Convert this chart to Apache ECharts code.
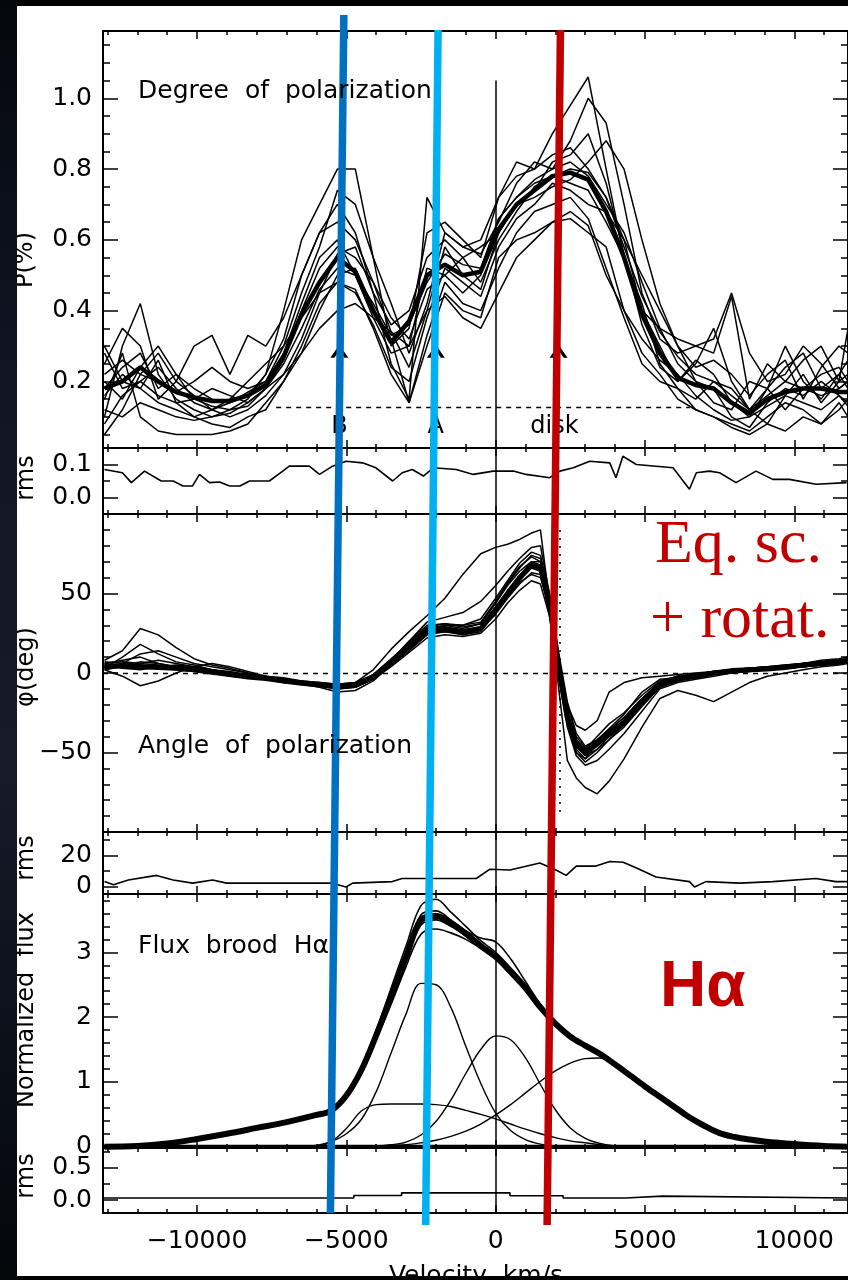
<!DOCTYPE html>
<html><head><meta charset="utf-8">
<script src="https://cdn.jsdelivr.net/npm/echarts@6.0.0/dist/echarts.min.js"></script>
<style>html,body{margin:0;padding:0;background:#fff}#c{width:848px;height:1280px}</style>
</head><body><div id="c"></div>
<script>
// ---------------- DATA ----------------
// Degree of polarization (P %), velocity grid
const VP = [-13100,-12500,-11900,-11300,-10700,-10100,-9500,-8900,-8300,-7700,-7100,-6500,-5900,-5300,-4700,-4100,-3500,-2900,-2300,-1700,-1100,-500,100,700,1300,1900,2500,3100,3700,4300,4900,5500,6100,6700,7300,7900,8500,9100,9700,10300,10900,11500,11800];
const pMean = [0.18,0.20,0.24,0.20,0.17,0.155,0.145,0.145,0.16,0.19, 0.27,0.39,0.48,0.55,0.51,0.40,0.31,0.37,0.50,0.53, 0.50,0.51,0.63,0.70,0.74,0.78,0.79,0.77,0.68,0.55, 0.39,0.28,0.21,0.19,0.18,0.14,0.11,0.15,0.17,0.18, 0.18,0.17,0.17];
const pT1 = [0.10,0.30,0.42,0.22,0.15,0.12,0.10,0.12,0.15,0.22, 0.40,0.60,0.70,0.80,0.80,0.55,0.30,0.35,0.62,0.65, 0.60,0.55,0.72,0.82,0.80,0.90,0.98,1.06,0.80,0.55, 0.40,0.30,0.20,0.25,0.35,0.20,0.12,0.18,0.30,0.20, 0.15,0.22,0.18];
const pT2 = [0.25,0.35,0.30,0.15,0.20,0.30,0.33,0.22,0.33,0.30, 0.38,0.50,0.62,0.70,0.62,0.45,0.25,0.15,0.72,0.62, 0.58,0.56,0.65,0.76,0.82,0.80,0.88,1.00,0.93,0.70, 0.45,0.32,0.28,0.30,0.32,0.45,0.28,0.20,0.22,0.30, 0.25,0.18,0.20];
const pT3 = [0.30,0.20,0.18,0.26,0.14,0.10,0.08,0.07,0.10,0.12, 0.20,0.28,0.40,0.50,0.52,0.40,0.32,0.14,0.30,0.45, 0.40,0.38,0.55,0.60,0.62,0.65,0.66,0.62,0.58,0.40, 0.28,0.22,0.15,0.12,0.10,0.08,0.06,0.10,0.14,0.12, 0.08,0.12,0.15];
const pT4 = [0.20,0.15,0.24,0.30,0.22,0.18,0.15,0.14,0.17,0.20, 0.28,0.42,0.55,0.60,0.50,0.38,0.28,0.30,0.52,0.50, 0.45,0.50,0.66,0.72,0.77,0.80,0.82,0.78,0.70,0.62, 0.48,0.35,0.25,0.20,0.18,0.10,0.07,0.14,0.18,0.16, 0.20,0.16,0.13];
const pT5 = [0.05,0.12,0.22,0.28,0.20,0.16,0.12,0.10,0.12,0.16, 0.22,0.32,0.45,0.56,0.58,0.45,0.36,0.40,0.55,0.60, 0.55,0.48,0.60,0.68,0.75,0.78,0.76,0.74,0.65,0.55, 0.42,0.25,0.18,0.15,0.20,0.16,0.12,0.08,0.16,0.22, 0.14,0.20,0.22];
const pT6 = [0.15,0.28,0.10,0.06,0.05,0.05,0.05,0.06,0.08,0.14, 0.20,0.30,0.42,0.48,0.46,0.35,0.22,0.14,0.33,0.48, 0.42,0.40,0.52,0.62,0.68,0.70,0.72,0.66,0.52,0.38, 0.25,0.20,0.18,0.12,0.10,0.07,0.05,0.08,0.06,0.10, 0.08,0.14,0.10];
const pT7 = [0.28,0.18,0.20,0.16,0.14,0.15,0.13,0.12,0.13,0.18, 0.25,0.35,0.46,0.52,0.50,0.42,0.33,0.36,0.48,0.56, 0.53,0.52,0.66,0.72,0.76,0.78,0.80,0.79,0.72,0.58, 0.44,0.34,0.27,0.22,0.20,0.18,0.12,0.16,0.20,0.18, 0.16,0.18,0.20];
const pT8 = [0.18,0.24,0.28,0.18,0.22,0.15,0.18,0.16,0.14,0.18, 0.26,0.40,0.52,0.58,0.55,0.48,0.38,0.32,0.46,0.50, 0.55,0.58,0.62,0.70,0.72,0.75,0.77,0.82,0.88,0.80, 0.60,0.42,0.30,0.24,0.26,0.22,0.16,0.22,0.26,0.15, 0.24,0.30,0.28];
const pT9 = [0.12,0.10,0.14,0.12,0.10,0.09,0.10,0.11,0.14,0.18, 0.22,0.28,0.35,0.40,0.42,0.38,0.34,0.30,0.40,0.44, 0.38,0.35,0.45,0.55,0.60,0.65,0.68,0.64,0.50,0.40, 0.32,0.26,0.22,0.16,0.12,0.09,0.10,0.13,0.16,0.14, 0.12,0.16,0.14];
const pT10 = [0.22,0.26,0.22,0.20,0.17,0.20,0.24,0.20,0.18,0.20, 0.30,0.45,0.58,0.74,0.70,0.55,0.42,0.28,0.42,0.62, 0.58,0.60,0.72,0.78,0.80,0.84,0.86,0.80,0.72,0.60, 0.40,0.35,0.32,0.30,0.28,0.44,0.15,0.25,0.20,0.26, 0.30,0.20,0.35];
const pT11 = [0.08,0.16,0.20,0.24,0.18,0.14,0.12,0.15,0.20,0.25, 0.30,0.38,0.45,0.48,0.45,0.36,0.24,0.20,0.38,0.52, 0.48,0.44,0.58,0.66,0.70,0.76,0.74,0.70,0.68,0.60, 0.50,0.40,0.30,0.20,0.14,0.12,0.20,0.18,0.12,0.18, 0.22,0.24,0.20];
const pT12 = [0.16,0.22,0.18,0.14,0.12,0.10,0.12,0.14,0.16,0.22, 0.32,0.50,0.62,0.65,0.60,0.48,0.34,0.24,0.40,0.58, 0.50,0.46,0.62,0.70,0.74,0.82,0.84,0.90,0.76,0.56, 0.36,0.24,0.20,0.26,0.22,0.14,0.10,0.18,0.24,0.28, 0.18,0.22,0.26];
const pThin = [pT1,pT2,pT3,pT4,pT5,pT6,pT7,pT8,pT9,pT10,pT11,pT12];
// markers in P panel
const pArrowV = [-5234, -2004, 2107];
const pArrowFrom = 0.13, pArrowTo = 0.285;
const pLabelV = [-5234, -2004, 1970];
const pLabelText = ['B', 'A', 'disk'];
const pLabelP = 0.072;
const pDashV = [-7350, 6500], pDashP = 0.128;
const pZeroTop = 1.05;

// rms of P
const rmsPV = [-13100,-12500,-12200,-11760,-11200,-10800,-10470,-10150,-9920,-9580,-9250,-8910,-8570,-8240,-7580,-7130,-6910,-6240,-5900,-5460,-5010,-4460,-4010,-3450,-3130,-2790,-2420,-2090,-1320,-750,-80,590,1020,1810,2150,2600,3150,3820,4030,4260,4710,5940,6490,6720,7160,7500,8050,8720,9280,9840,10730,11750];
const rmsP = [0.085,0.075,0.045,0.08,0.05,0.05,0.035,0.035,0.07,0.045,0.047,0.035,0.035,0.05,0.05,0.08,0.095,0.095,0.07,0.095,0.11,0.105,0.09,0.05,0.075,0.085,0.065,0.09,0.085,0.07,0.08,0.08,0.07,0.06,0.08,0.09,0.11,0.105,0.06,0.125,0.10,0.09,0.025,0.075,0.08,0.075,0.045,0.08,0.055,0.055,0.04,0.045];

// Angle of polarization (deg)
const VA = [-13100,-12500,-11900,-11300,-10700,-10100,-9500,-8900,-8300,-7700,-7100,-6500,-5900,-5300,-4700,-4100,-3500,-2900,-2300,-1700,-1100,-500,0,400,800,1200,1500,1800,2100,2400,2700,3000,3400,3800,4300,4900,5500,6100,6700,7300,7900,8500,9100,9700,10300,10900,11500,11800];
const aMean = [4,4.5,4,3.5,3,2,0.5,-1,-2.5,-3.5, -5,-6.5,-7.5,-8.5,-7.5,-2.5,7,17,27,28, 26,28,40,50,60,68,66,44,5,-28, -45,-50,-44,-38,-31,-18,-7,-3,-2,0, 1.5,2,2.5,3.5,5,6,7,8];
const aT1 = [6,8,10,6,4,3,1,-1,-3,-4, -5,-6,-7,-8,-6,2,15,26,36,47, 62,75,79,81,84,88,90,45,10,-25, -42,-48,-40,-32,-25,-14,-5,-2,-1,1, 2,3,3,4,6,7,8,9];
const aT2 = [3,10,18,12,7,5,2,0,-2,-3, -5,-6,-8,-9,-8,-4,8,20,32,35, 38,45,55,64,72,79,80,50,12,-20, -40,-47,-42,-35,-26,-12,-4,-3,-2,0, 1,2,3,4,5,6,7,8];
const aT3 = [8,14,28,24,16,9,5,3,0,-2, -4,-5,-6,-7,-6,-2,6,16,26,26, 24,27,38,48,58,66,64,42,0,-30, -50,-56,-50,-42,-32,-18,-8,-4,-3,-1, 1,2,2,3,4,5,6,7];
const aT4 = [2,-2,-8,-5,0,4,6,4,1,-2, -3,-5,-7,-9,-8,-3,6,17,27,28, 27,29,41,52,61,70,70,46,4,-28, -46,-52,-46,-38,-30,-17,-7,-3,-1,0, 2,3,4,4,6,7,8,8];
const aT5 = [5,4,3,3,2,1,0,-1,-2,-4, -6,-7,-8,-10,-9,-4,5,14,24,27, 24,26,38,50,60,69,67,40,-8,-55, -66,-72,-76,-68,-54,-34,-16,-11,-14,-18, -12,-6,-2,0,2,4,5,6];
const aT6 = [4,5,4,3,3,2,0,-2,-3,-4, -6,-7,-8,-9,-8,-3,6,16,25,27, 26,28,39,48,57,62,60,42,10,-20, -33,-36,-30,-12,-6,-3,-2,-1,0,1, 2,2,3,3,4,5,6,7];
const aT7 = [7,6,5,4,4,3,1,0,-2,-3, -5,-6,-7,-8,-7,-2,7,18,28,30, 28,31,44,55,64,70,68,46,6,-24, -42,-50,-46,-40,-32,-20,-8,-4,-2,0, 1,2,2,3,5,6,7,8];
const aT8 = [3,6,12,14,10,6,4,2,0,-3, -5,-7,-9,-12,-11,-5,5,15,24,26, 25,27,37,47,56,63,62,38,2,-30, -48,-54,-48,-40,-33,-20,-9,-5,-3,-1, 0,1,2,3,4,5,6,7];
const aT9 = [5,3,2,4,5,4,2,0,-1,-3, -4,-6,-7,-9,-8,-3,8,20,30,31, 29,31,44,56,66,74,72,48,8,-26, -44,-52,-48,-42,-34,-21,-9,-5,-3,-1, 1,2,3,4,5,6,7,8];
const aT10 = [6,7,6,5,4,2,1,-1,-2,-4, -5,-6,-8,-10,-9,-4,4,13,22,24, 23,25,34,44,52,58,56,36,-2,-34, -52,-58,-55,-48,-38,-24,-10,-6,-4,-2, 0,1,2,3,4,5,6,7];
const aT11 = [4,5,7,6,4,3,2,0,-1,-3, -5,-6,-7,-8,-7,-1,9,19,29,31, 30,32,45,57,67,73,70,44,0,-32, -50,-54,-44,-36,-28,-16,-6,-2,-1,0, 2,3,4,5,6,7,8,9];
const aT12 = [2,4,6,8,6,4,2,1,-1,-2, -4,-5,-6,-7,-6,-1,6,16,26,30, 30,34,47,58,69,76,74,50,14,-18, -38,-46,-42,-36,-28,-16,-6,-3,-1,1, 2,3,4,5,6,8,9,10];
const aThin = [aT1,aT2,aT3,aT4,aT5,aT6,aT7,aT8,aT9,aT10,aT11,aT12];
const aDotV = 2147, aDotRange = [90, -90];

// rms of flux
const rmsFV = [-13100,-12800,-12300,-11360,-10800,-10150,-9480,-9010,-5470,-5010,-4790,-3460,-3130,-2420,-650,-190,480,1480,2020,2360,2700,3360,3820,4270,4700,5370,6490,6660,7040,8170,9280,10720,11390,11800];
const rmsF = [3,1,4,7,4,2,4,2,2,-0.5,2,3,5,5,5,11,10.5,15,10.5,7,13,13,16,15.5,12,6,3,-0.5,3,2,3,5,3,3];

// Normalized flux broad H-alpha
const VF = [-13100,-12000,-11000,-10000,-9000,-8000,-7000,-6000,-5500,-5000, -4500,-4000,-3500,-3000,-2500,-2000,-1500,-1000,-500,0, 500,1000,1500,2000,2500,3000,3500,4000,4500,5000, 5500,6000,6500,7000,7500,8000,8500,9000,10000,11000, 11800];
const fMean = [0.0,0.01,0.05,0.12,0.20,0.29,0.38,0.49,0.56,0.79, 1.18,1.72,2.32,2.93,3.50,3.56,3.45,3.29,3.10,2.93, 2.70,2.45,2.15,1.90,1.70,1.56,1.43,1.27,1.10,0.93, 0.77,0.61,0.45,0.32,0.21,0.15,0.11,0.08,0.04,0.01, 0.0];
const fS1 = [0.0,0.01,0.05,0.12,0.20,0.29,0.38,0.48,0.55,0.82, 1.22,1.80,2.45,3.10,3.72,3.82,3.62,3.40,3.18,3.00, 2.76,2.50,2.18,1.92,1.71,1.57,1.44,1.28,1.11,0.94, 0.78,0.62,0.46,0.32,0.21,0.15,0.11,0.08,0.04,0.01, 0.0];
const fS2 = [0.0,0.01,0.05,0.11,0.19,0.28,0.37,0.47,0.53,0.78, 1.14,1.65,2.20,2.78,3.28,3.36,3.30,3.20,3.06,2.90, 2.68,2.42,2.12,1.88,1.69,1.55,1.42,1.26,1.09,0.92, 0.76,0.60,0.44,0.31,0.21,0.15,0.11,0.08,0.04,0.01, 0.0];
const fS3 = [0.0,0.01,0.05,0.12,0.20,0.29,0.38,0.48,0.54,0.80, 1.16,1.70,2.30,2.90,3.45,3.55,3.46,3.33,3.22,3.16, 2.90,2.55,2.20,1.92,1.70,1.56,1.43,1.27,1.10,0.93, 0.77,0.61,0.45,0.32,0.21,0.15,0.11,0.08,0.04,0.01, 0.0];
const fS4 = [0.0,0.01,0.05,0.12,0.21,0.30,0.39,0.49,0.56,0.83, 1.20,1.76,2.36,2.98,3.58,3.64,3.50,3.32,3.12,2.95, 2.72,2.46,2.16,1.91,1.71,1.57,1.44,1.28,1.11,0.94, 0.78,0.62,0.46,0.33,0.22,0.16,0.11,0.08,0.04,0.01, 0.0];
const fS5 = [0.0,0.01,0.04,0.11,0.19,0.28,0.37,0.47,0.53,0.79, 1.16,1.68,2.28,2.88,3.42,3.50,3.40,3.25,3.07,2.90, 2.67,2.42,2.13,1.88,1.68,1.54,1.41,1.25,1.08,0.91, 0.75,0.59,0.44,0.31,0.20,0.14,0.10,0.07,0.03,0.01, 0.0];
const fSpectra = [fS1,fS2,fS3,fS4,fS5];
const fCompA = [0,0,0,0,0,0,0,0,0.08,0.28, 0.55,0.65,0.66,0.66,0.66,0.65,0.62,0.56,0.50,0.43, 0.35,0.27,0.20,0.14,0.09,0.06,0.03,0.01,0,0, 0,0,0,0,0,0,0,0,0,0, 0];
const fCompB = [0,0,0,0,0,0,0,0.02,0.08,0.20, 0.42,0.85,1.45,2.05,2.52,2.50,2.15,1.55,0.98,0.52, 0.25,0.11,0.04,0.01,0,0,0,0,0,0, 0,0,0,0,0,0,0,0,0,0, 0];
const fCompC = [0,0,0,0,0,0,0,0,0,0, 0,0.01,0.03,0.07,0.18,0.39,0.72,1.13,1.50,1.71, 1.65,1.37,0.96,0.57,0.29,0.13,0.05,0.01,0,0, 0,0,0,0,0,0,0,0,0,0, 0];
const fCompD = [0,0,0,0,0,0,0,0,0,0, 0,0.01,0.02,0.03,0.06,0.10,0.16,0.24,0.35,0.49, 0.65,0.83,1.01,1.17,1.29,1.36,1.37,1.25,1.08,0.91, 0.75,0.59,0.44,0.31,0.21,0.14,0.10,0.06,0.02,0, 0];
const fBaseV = [-13150, 11800], fBase = [0, 0];

// rms of the fit
const rmsBV = [-13150,-4750,-4750,-3150,-3150,480,480,2260,2260,4350,4350,5590,5590,11800];
const rmsB = [0.03,0.03,0.07,0.07,0.11,0.11,0.065,0.065,0.03,0.03,0.06,0.06,0.03,0.03];

// coloured guide lines (velocity at top / bottom of the figure)
const guideDarkV = [-5084, -5535], guideDarkY = [15, 1213];
const guideLightV = [-1928, -2345], guideLightY = [30, 1225];
const guideRedV = [2170, 1723], guideRedY = [30, 1225];

// tick steps
const xTickStep = 5000, xMinorStep = 1000;

// ---------------- LAYOUT ----------------
const GL = 103, GW = 747;
const X_MIN = -13150, X_MAX = 11800;
const PANELS = [
  {top:31,   h:417, min:0.012, max:1.19, major:0.2, minor:0.05, dec:1},
  {top:448,  h:66,  min:-0.05, max:0.15, major:0.1, minor:0.05, dec:1},
  {top:514,  h:318, min:-100,  max:100,  major:50,  minor:10,   dec:0},
  {top:832,  h:62,  min:-5,    max:35,   major:20,  minor:10,   dec:0},
  {top:894,  h:254, min:-0.02, max:3.9,  major:1,   minor:0.2,  dec:0},
  {top:1148, h:65,  min:-0.2,  max:0.8,  major:0.5, minor:0.25, dec:1}
];
const FONT = '"DejaVu Sans"';
const BLACK = '#000';
const minus = s => String(s).replace('-', '\u2212');

const grids = [], xAxes = [], yAxes = [], series = [];
PANELS.forEach((p, i) => {
  grids.push({left: GL, width: GW, top: p.top, height: p.h});
  const last = i === PANELS.length - 1;
  const mkX = (pos, step, len, line, label) => ({
    type: 'value', gridIndex: i, position: pos, min: X_MIN, max: X_MAX,
    minInterval: step, maxInterval: step, splitNumber: 25,
    axisLine: {show: line, onZero: false, lineStyle: {color: BLACK, width: 2}},
    axisTick: {show: true, inside: true, length: len, lineStyle: {color: BLACK, width: 1.5}},
    axisLabel: {show: label, showMinLabel: false, showMaxLabel: false, margin: 16,
      color: BLACK, fontFamily: FONT, fontSize: 25, formatter: v => minus(v)},
    splitLine: {show: false}
  });
  xAxes.push(mkX('bottom', xTickStep, 8, true, last), mkX('bottom', xMinorStep, 4, false, false),
             mkX('top', xTickStep, 8, true, false), mkX('top', xMinorStep, 4, false, false));
  const mkY = (pos, step, len, line, label) => ({
    type: 'value', gridIndex: i, position: pos, min: p.min, max: p.max,
    minInterval: step, maxInterval: step, splitNumber: 10,
    axisLine: {show: line, onZero: false, lineStyle: {color: BLACK, width: 2}},
    axisTick: {show: true, inside: true, length: len, lineStyle: {color: BLACK, width: 1.5}},
    axisLabel: {show: label, showMinLabel: false, showMaxLabel: false, margin: 11,
      color: BLACK, fontFamily: FONT, fontSize: 25, formatter: v => minus(Number(v).toFixed(p.dec))},
    splitLine: {show: false}
  });
  yAxes.push(mkY('left', p.major, 15, true, true), mkY('left', p.minor, 7, false, false),
             mkY('right', p.major, 15, true, false), mkY('right', p.minor, 7, false, false));
});
// overlay grid for guide lines
grids.push({left: GL, width: GW, top: 0, height: 1280});
xAxes.push({type: 'value', gridIndex: 6, min: X_MIN, max: X_MAX, show: false});
yAxes.push({type: 'value', gridIndex: 6, min: 0, max: 1280, inverse: true, show: false});

const pairs = (xs, ys) => xs.map((x, k) => [x, ys[k]]);
function line(panel, xs, ys, w, extra) {
  series.push(Object.assign({
    type: 'line', xAxisIndex: 4 * panel, yAxisIndex: 4 * panel, data: pairs(xs, ys),
    symbol: 'none', silent: true, animation: false, z: 3,
    lineStyle: {color: BLACK, width: w}
  }, extra || {}));
}
const zeroLine = (extraData) => ({
  symbol: 'none', silent: true, animation: false, label: {show: false},
  lineStyle: {color: BLACK, width: 1.5, type: 'solid'},
  data: extraData
});

// Panel 0: P
pThin.forEach(t => line(0, VP, t, 1.5));
line(0, VP, pMean, 4.5, {markLine: zeroLine([
  [{coord: [0, pZeroTop]}, {coord: [0, PANELS[0].min]}],
  [{coord: [pDashV[0], pDashP], lineStyle: {type: [5, 5], width: 1.3}}, {coord: [pDashV[1], pDashP]}]
])});
const CHEVRON = 'path://M0,12L9,0L18,12L14,12L9,5L4,12Z';
series.push({
  type: 'line', xAxisIndex: 0, yAxisIndex: 0, data: [], silent: true, animation: false,
  markLine: {silent: true, animation: false, label: {show: false}, symbol: ['none', CHEVRON], symbolSize: [18, 13],
    lineStyle: {color: BLACK, width: 1.5, type: 'solid'},
    data: pArrowV.map(v => [{coord: [v, pArrowFrom]}, {coord: [v, pArrowTo]}])}
});
series.push({
  type: 'scatter', xAxisIndex: 0, yAxisIndex: 0, symbolSize: 1, silent: true, animation: false,
  itemStyle: {opacity: 0}, z: 4,
  data: pLabelV.map((v, k) => ({value: [v, pLabelP], name: pLabelText[k]})),
  label: {show: true, position: 'inside', formatter: d => d.name, color: BLACK, opacity: 1,
    fontFamily: FONT, fontSize: 24}
});
// Panel 1: rms P
line(1, rmsPV, rmsP, 1.6, {markLine: zeroLine([{xAxis: 0}])});
// Panel 2: angle
aThin.forEach(t => line(2, VA, t, 1.5));
line(2, VA, aMean, 5, {markLine: zeroLine([
  {xAxis: 0},
  [{coord: [X_MIN, 0], lineStyle: {type: [5, 5], width: 1.3}}, {coord: [X_MAX, 0]}],
  [{coord: [aDotV, aDotRange[0]], lineStyle: {type: [2, 6], width: 1.5}}, {coord: [aDotV, aDotRange[1]]}]
])});
// Panel 3: rms flux
line(3, rmsFV, rmsF, 1.6, {markLine: zeroLine([{xAxis: 0}])});
// Panel 4: flux
[fCompA, fCompB, fCompC, fCompD].forEach(c => line(4, VF, c, 1.4, {smooth: 0.35}));
fSpectra.forEach(s => line(4, VF, s, 1.6, {smooth: 0.35}));
line(4, VF, fMean, 6, {smooth: 0.35, markLine: zeroLine([{xAxis: 0}])});
line(4, fBaseV, fBase, 4);
// Panel 5: rms of fit
line(5, rmsBV, rmsB, 1.6, {markLine: zeroLine([{xAxis: 0}])});

// guides
[[guideDarkV, guideDarkY, '#0070C0'], [guideLightV, guideLightY, '#00B0F0'], [guideRedV, guideRedY, '#C00000']].forEach(g => {
  series.push({type: 'line', xAxisIndex: 24, yAxisIndex: 24, data: pairs(g[0], g[1]), symbol: 'none',
    clip: false, silent: true, animation: false, z: 20, lineStyle: {color: g[2], width: 7.5, cap: 'butt'}});
});

const txt = (x, y, text, font) => ({
  type: 'text', x: x, y: y, z: 30, silent: true,
  style: {text: text, font: font, fill: BLACK, align: 'left', verticalAlign: 'middle'}
});
const rot = (x, y, text) => ({type: 'text', x: x, y: y, rotation: Math.PI / 2, z: 30, silent: true,
  style: {text: text, font: '24px ' + FONT, fill: BLACK, align: 'center', verticalAlign: 'middle'}});

const graphics = [
  txt(138, 91.4, 'Degree  of  polarization', '25px ' + FONT),
  txt(138, 746.4, 'Angle  of  polarization', '25px ' + FONT),
  txt(138, 946.4, 'Flux  brood  H\u03b1', '25px ' + FONT),
  rot(26, 260, 'P(%)'),
  rot(27, 478, 'rms'),
  rot(27, 667, '\u03c6(deg)'),
  rot(27, 858, 'rms'),
  rot(27, 1010, 'Normalized  flux'),
  rot(27, 1176, 'rms'),
  {type: 'text', x: 476, y: 1276, z: 30, silent: true,
    style: {text: 'Velocity  km/s', font: '25px ' + FONT, fill: BLACK, align: 'center', verticalAlign: 'middle'}},
  {type: 'text', x: 655, y: 545.8, z: 40, silent: true,
    style: {text: 'Eq. sc.', font: '62px "Liberation Serif"', fill: '#C00000', align: 'left', verticalAlign: 'middle'}},
  {type: 'text', x: 650, y: 620.8, z: 40, silent: true,
    style: {text: '+ rotat.', font: '62px "Liberation Serif"', fill: '#C00000', align: 'left', verticalAlign: 'middle'}},
  {type: 'text', x: 660, y: 988, z: 40, silent: true,
    style: {text: 'H\u03b1', font: 'bold 64px "Liberation Sans"', fill: '#C00000', align: 'left', verticalAlign: 'middle'}},
  // picture frame
  {type: 'rect', z: 200, silent: true, shape: {x: 0, y: 0, width: 848, height: 6}, style: {fill: '#000'}},
  {type: 'rect', z: 200, silent: true, shape: {x: 0, y: 1276, width: 848, height: 4}, style: {fill: '#000'}},
  {type: 'rect', z: 200, silent: true, shape: {x: 0, y: 0, width: 17, height: 1280},
    style: {fill: new echarts.graphic.LinearGradient(0, 0, 0, 1, [
      {offset: 0, color: '#05070c'}, {offset: 0.3, color: '#0f1624'}, {offset: 0.6, color: '#141c2a'}, {offset: 1, color: '#04060a'}])}}
];

const chart = echarts.init(document.getElementById('c'), null, {renderer: 'canvas'});
chart.setOption({
  backgroundColor: '#fff', animation: false,
  grid: grids, xAxis: xAxes, yAxis: yAxes, series: series, graphic: graphics
});
</script></body></html>
